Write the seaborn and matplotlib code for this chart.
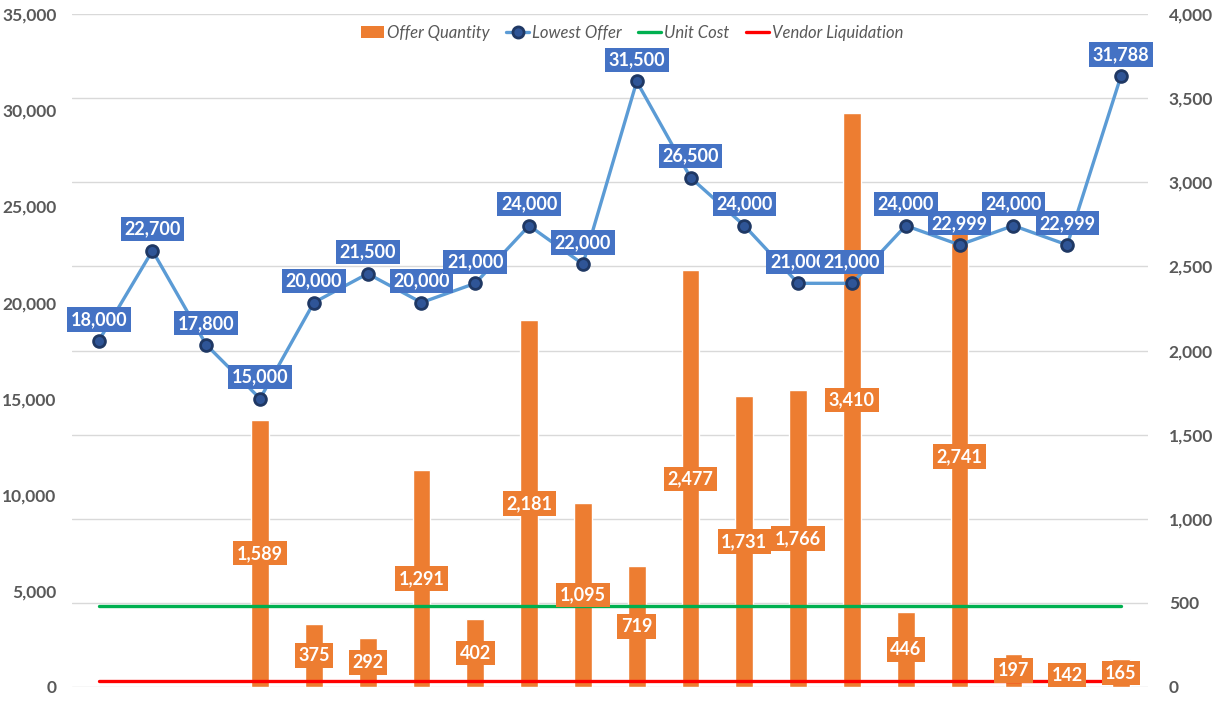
import numpy as np
import pandas as pd
import matplotlib
matplotlib.use("Agg")
import matplotlib.pyplot as plt
import seaborn as sns
from matplotlib.lines import Line2D
from matplotlib.patches import Patch

# chart data
lowest_offer = [18000, 22700, 17800, 15000, 20000, 21500, 20000, 21000, 24000, 22000,
                31500, 26500, 24000, 21000, 21000, 24000, 22999, 24000, 22999, 31788]
offer_qty = [np.nan, np.nan, np.nan, 1589, 375, 292, 1291, 402, 2181, 1095,
             719, 2477, 1731, 1766, 3410, 446, 2741, 197, 142, 165]
unit_cost = [4220] * 20
vendor_liq = [310] * 20
pos = np.arange(20)

df = pd.DataFrame({"pos": pos, "offer": lowest_offer, "qty": offer_qty,
                   "unit": unit_cost, "vendor": vendor_liq})

sns.set_theme(style="white")
plt.rcParams["font.family"] = ["Lato", "DejaVu Sans"]

fig = plt.figure(figsize=(12.16, 7.03), dpi=100)
ax = fig.add_axes([0.059, 0.0228, 0.885, 0.957])
ax2 = ax.twinx()
# lines sit above the bars
ax.set_zorder(2)
ax.patch.set_visible(False)

# bars on the right axis
sns.barplot(data=df, x="pos", y="qty", ax=ax2, native_scale=True, color="#ED7D31",
            saturation=1, width=0.33, errorbar=None, zorder=2)

# lines on the left axis
sns.lineplot(data=df, x="pos", y="unit", ax=ax, color="#00B050", lw=2.4)
sns.lineplot(data=df, x="pos", y="vendor", ax=ax, color="#FF0000", lw=2.4)
sns.lineplot(data=df, x="pos", y="offer", ax=ax, color="#5B9BD5", lw=2.4,
             marker="o", markersize=8.5, markerfacecolor="#2F5597",
             markeredgecolor="#1F3864", markeredgewidth=2)

# labels
for x, v in zip(pos, lowest_offer):
    ax.annotate(f"{v:,}", (x, v), xytext=(0, 15.5), textcoords="offset points",
                ha="center", va="center", color="white", fontweight="bold", fontsize=13,
                bbox=dict(boxstyle="square,pad=0.2", fc="#4472C4", ec="none"), zorder=6)
for x, q in zip(pos, offer_qty):
    if np.isnan(q):
        continue
    ax.text(x, q / 2, f"{int(q):,}", transform=ax2.transData,
            ha="center", va="center", color="white", fontweight="bold", fontsize=13,
            bbox=dict(boxstyle="square,pad=0.2", fc="#ED7D31", ec="none"), zorder=5)

ax.set_xlim(-0.5, 19.5)
ax.set_ylim(0, 35000)
ax2.set_ylim(0, 4000)
ax.set_xticks([])
ax.set_xlabel("")
ax.set_ylabel("")
ax2.set_ylabel("")
ax.grid(False)
ax2.grid(False)
ax2.yaxis.grid(True, color="#D9D9D9", lw=1)
ax2.set_axisbelow(True)

lt = list(range(0, 35001, 5000))
ax.set_yticks(lt)
ax.set_yticklabels([f"{t:,}" for t in lt], fontweight="bold")
rt = list(range(0, 4001, 500))
ax2.set_yticks(rt)
ax2.set_yticklabels([f"{t:,}" for t in rt], fontweight="bold")
ax.tick_params(axis="y", length=0, pad=11, labelsize=12.5, labelcolor="#595959")
ax2.tick_params(axis="y", length=0, pad=15, labelsize=12.5, labelcolor="#595959")
for a in (ax, ax2):
    for s in a.spines.values():
        s.set_visible(False)

handles = [Patch(fc="#ED7D31", ec="none"),
           Line2D([], [], color="#5B9BD5", lw=2.4, marker="o", markersize=8,
                  markerfacecolor="#2F5597", markeredgecolor="#1F3864", markeredgewidth=2),
           Line2D([], [], color="#00B050", lw=2.4),
           Line2D([], [], color="#FF0000", lw=2.4)]
labels = ["Offer Quantity", "Lowest Offer", "Unit Cost", "Vendor Liquidation"]
fig.legend(handles, labels, loc="center", bbox_to_anchor=(0.52, 0.953), ncol=4,
           frameon=False, prop=dict(style="italic", size=12), labelcolor="#595959",
           handlelength=1.35, handletextpad=0.2, columnspacing=1.0)

fig.savefig("out.png", dpi=100)
